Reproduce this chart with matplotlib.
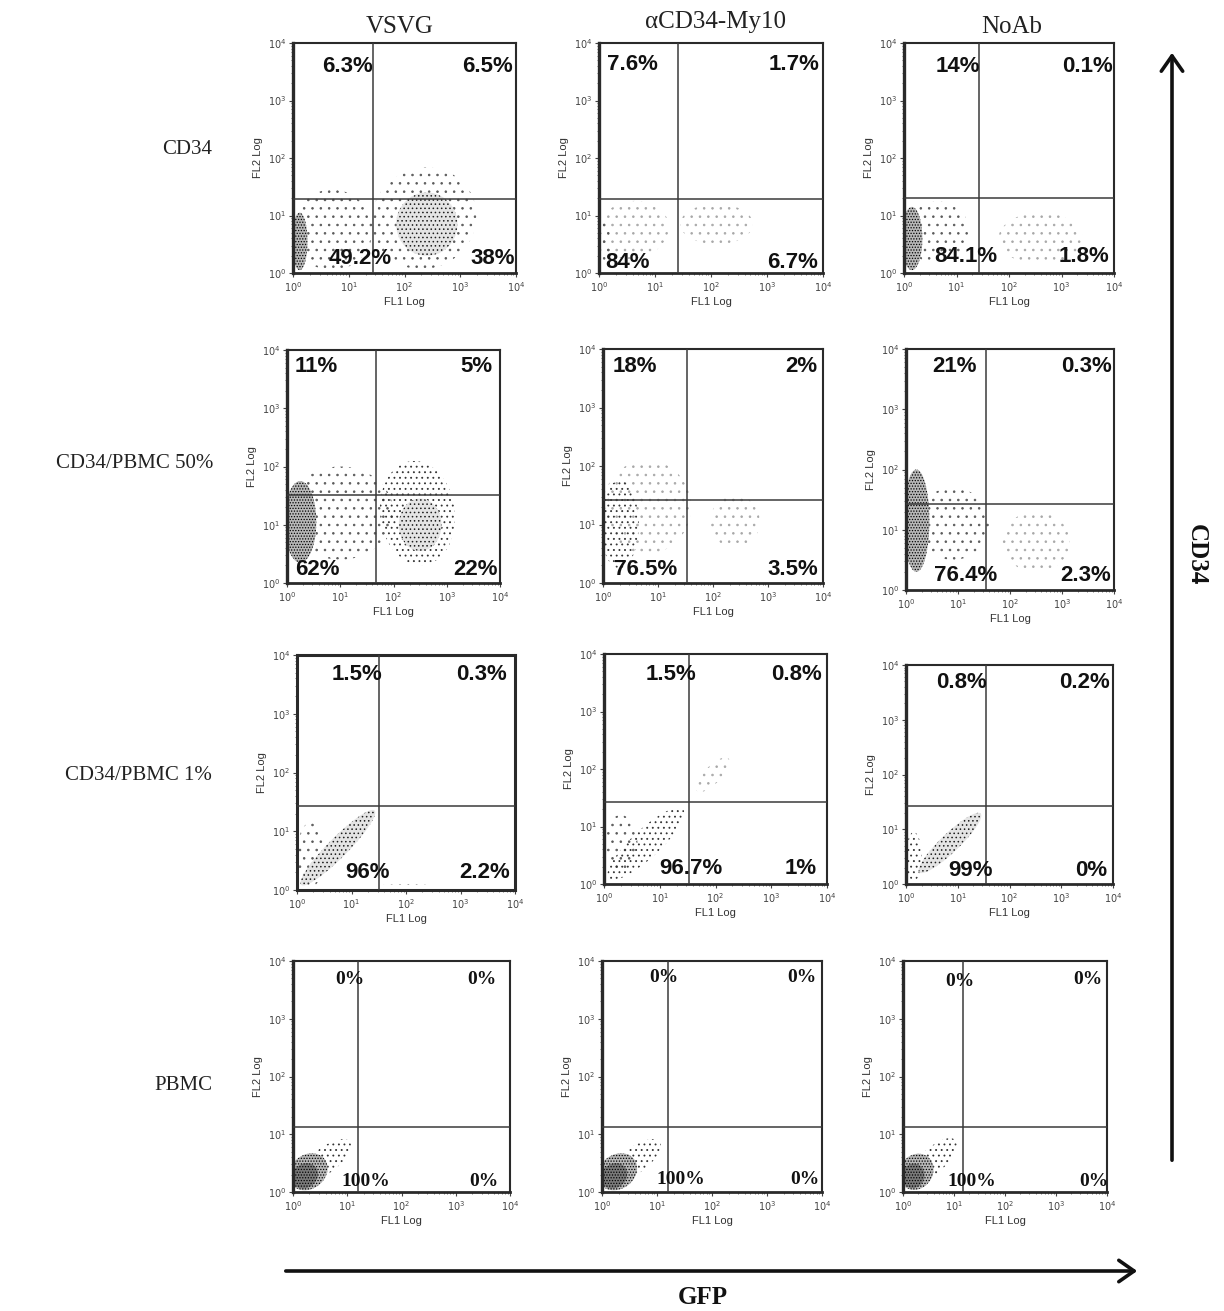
import numpy as np
import matplotlib
matplotlib.use("Agg")
import matplotlib.pyplot as plt
from matplotlib.patches import FancyArrowPatch

plt.rcParams['hatch.linewidth'] = 0.6

W, H = 1224, 1311

# ---------------- data ----------------
col_titles = ["VSVG", "\u03b1CD34-My10", "NoAb"]
row_titles = ["CD34", "CD34/PBMC 50%", "CD34/PBMC 1%", "PBMC"]

# quadrant percentages: [upper-left, upper-right, lower-left, lower-right]
pct_r1 = [["6.3%", "6.5%", "49.2%", "38%"],
          ["7.6%", "1.7%", "84%", "6.7%"],
          ["14%", "0.1%", "84.1%", "1.8%"]]
pct_r2 = [["11%", "5%", "62%", "22%"],
          ["18%", "2%", "76.5%", "3.5%"],
          ["21%", "0.3%", "76.4%", "2.3%"]]
pct_r3 = [["1.5%", "0.3%", "96%", "2.2%"],
          ["1.5%", "0.8%", "96.7%", "1%"],
          ["0.8%", "0.2%", "99%", "0%"]]
pct_r4 = [["0%", "0%", "100%", "0%"],
          ["0%", "0%", "100%", "0%"],
          ["0%", "0%", "100%", "0%"]]
percentages = [pct_r1, pct_r2, pct_r3, pct_r4]

# quadrant gates (log10 of FL1, log10 of FL2)
gate_fl1 = [[1.43, 1.41, 1.43],
            [1.67, 1.53, 1.54],
            [1.50, 1.52, 1.55],
            [1.20, 1.20, 1.18]]
gate_fl2 = [[1.29, 1.29, 1.30],
            [1.51, 1.42, 1.43],
            [1.43, 1.43, 1.42],
            [1.13, 1.13, 1.13]]

# event clouds:
# (centre log10 FL1, centre log10 FL2, width, height [decades], angle deg, density level)
clouds_r1 = [
    [(0.70, 0.75, 1.45, 1.40, 0, 1), (0.12, 0.55, 0.28, 1.00, 0, 4),
     (2.35, 0.95, 1.90, 1.75, 20, 1), (2.40, 0.85, 1.10, 1.10, 20, 3)],
    [(0.60, 0.75, 1.30, 1.00, 10, 0), (2.10, 0.85, 1.30, 0.70, 0, 0),
     (0.10, 0.50, 0.20, 0.80, 0, 1)],
    [(0.65, 0.70, 1.20, 1.10, 0, 1), (0.15, 0.60, 0.40, 1.10, 0, 4),
     (2.60, 0.60, 1.60, 0.90, 0, 0)],
]
clouds_r2 = [
    [(1.00, 1.20, 2.00, 1.60, 0, 1), (0.25, 1.05, 0.60, 1.40, 0, 4),
     (2.45, 1.20, 1.40, 1.80, 10, 2), (2.50, 1.00, 0.80, 0.90, 0, 3)],
    [(0.80, 1.30, 1.60, 1.60, 0, 0), (0.30, 1.00, 0.70, 1.50, 0, 2),
     (2.40, 1.05, 0.90, 0.90, -20, 0)],
    [(0.90, 1.10, 1.40, 1.20, 0, 1), (0.20, 1.15, 0.50, 1.70, 0, 4),
     (2.50, 0.80, 1.30, 1.00, 0, 0)],
]
clouds_r3 = [
    [(0.25, 0.60, 0.50, 1.10, 0, 1), (0.75, 0.72, 1.85, 0.35, 43, 3),
     (2.00, 0.05, 1.20, 0.10, 0, 1)],
    [(0.30, 0.70, 0.60, 1.00, 0, 1), (0.75, 0.70, 1.80, 0.50, 42, 2),
     (1.95, 1.90, 0.80, 0.30, 45, 0)],
    [(0.15, 0.50, 0.30, 0.90, 0, 2), (0.85, 0.75, 1.60, 0.35, 42, 3)],
]
clouds_r4 = [
    [(0.60, 0.55, 1.10, 0.45, 35, 2), (0.28, 0.35, 0.75, 0.60, 30, 4),
     (0.22, 0.28, 0.50, 0.42, 30, 5)],
    [(0.60, 0.55, 1.10, 0.45, 35, 2), (0.28, 0.35, 0.75, 0.60, 30, 4),
     (0.22, 0.28, 0.50, 0.42, 30, 5)],
    [(0.60, 0.55, 1.10, 0.45, 38, 2), (0.26, 0.35, 0.70, 0.60, 30, 4),
     (0.20, 0.28, 0.45, 0.42, 30, 5)],
]
clouds = [clouds_r1, clouds_r2, clouds_r3, clouds_r4]

decade_ticks = [1, 10, 100, 1000, 10000]
decade_labels = ["$10^{0}$", "$10^{1}$", "$10^{2}$", "$10^{3}$", "$10^{4}$"]

# ---------------- layout (pixels) ----------------
axes_px = [  # left, top, right, bottom
    [(293, 43, 516, 273), (599, 43, 823, 273), (904, 43, 1114, 273)],
    [(287, 350, 500, 583), (603, 349, 823, 583), (906, 349, 1114, 590)],
    [(297, 655, 515, 890), (604, 654, 827, 884), (906, 665, 1113, 884)],
    [(293, 961, 510, 1192), (602, 961, 822, 1192), (903, 961, 1107, 1192)],
]
# percentage label anchors: right edge x, centre y (UL, UR, LL, LR)
label_px = [
    [[(373, 66), (513, 66), (392, 259), (515, 259)],
     [(658, 64), (820, 64), (650, 262), (818, 262)],
     [(980, 66), (1113, 66), (997, 257), (1109, 257)]],
    [[(338, 366), (492, 366), (340, 569), (498, 569)],
     [(657, 367), (817, 367), (677, 569), (818, 569)],
     [(977, 367), (1112, 367), (997, 576), (1111, 576)]],
    [[(382, 675), (507, 675), (390, 873), (510, 873)],
     [(696, 674), (822, 674), (723, 869), (817, 869)],
     [(987, 683), (1110, 683), (993, 871), (1107, 871)]],
    [[(365, 980), (497, 980), (390, 1181), (498, 1181)],
     [(678, 978), (816, 978), (705, 1180), (820, 1180)],
     [(975, 982), (1103, 980), (996, 1181), (1108, 1181)]],
]
title_px = [(400, 27), (715, 22), (1012, 27)]
row_label_px = [(212, 150), (213, 463), (212, 775), (212, 1085)]

# density level -> (hatch, dot colour, underlying tint)
level_style = {0: ("..", "#a8a8a8", "none"),
               1: ("..", "#5a5a5a", "none"),
               2: ("...", "#333333", "none"),
               3: ("....", "#1e1e1e", "#e4e4e4"),
               4: ("......", "#000000", "#b8b8b8"),
               5: ("......", "#000000", "#7a7a7a")}


def fx(x):
    return x / W


def fy(y):
    return 1 - y / H


fig = plt.figure(figsize=(W / 100, H / 100), dpi=100)
fig.patch.set_facecolor("white")

theta = np.linspace(0, 2 * np.pi, 80)

for r in range(4):
    for c in range(3):
        l, t, rr, b = axes_px[r][c]
        ax = fig.add_axes([fx(l), fy(b), (rr - l) / W, (b - t) / H])
        ax.set_xscale("log")
        ax.set_yscale("log")
        ax.set_xlim(1, 10000)
        ax.set_ylim(1, 10000)

        # event clouds
        for (cx, cy, w, h, ang, lev) in clouds[r][c]:
            a = np.deg2rad(ang)
            ex = cx + (w / 2) * np.cos(theta) * np.cos(a) - (h / 2) * np.sin(theta) * np.sin(a)
            ey = cy + (w / 2) * np.cos(theta) * np.sin(a) + (h / 2) * np.sin(theta) * np.cos(a)
            ex = np.clip(ex, 0.0, 4.0)
            ey = np.clip(ey, 0.0, 4.0)
            hatch, col, tint = level_style[lev]
            ax.fill(10 ** ex, 10 ** ey, facecolor=tint, edgecolor=col,
                    linewidth=0, hatch=hatch, zorder=1)

        # quadrant gates
        ax.axvline(10 ** gate_fl1[r][c], color="#3a3a3a", lw=1.1, zorder=3)
        ax.axhline(10 ** gate_fl2[r][c], color="#3a3a3a", lw=1.1, zorder=3)

        ax.set_xticks(decade_ticks)
        ax.set_xticklabels(decade_labels)
        ax.set_yticks(decade_ticks)
        ax.set_yticklabels(decade_labels)
        ax.tick_params(which="major", labelsize=7, colors="#444444", length=3,
                       width=0.8, direction="out", pad=2)
        ax.tick_params(which="minor", length=1.6, width=0.6, colors="#666666",
                       direction="out")
        ax.set_xlabel("FL1 Log", fontsize=8, color="#333333", labelpad=2,
                      family="Liberation Sans")
        ax.set_ylabel("FL2 Log", fontsize=8, color="#333333", labelpad=3,
                      family="Liberation Sans")
        for name, sp in ax.spines.items():
            sp.set_color("#2a2a2a")
            sp.set_linewidth(1.5)
        ax.spines["left"].set_linewidth(2.4)
        ax.spines["bottom"].set_linewidth(2.0)
        if r == 2 and c == 0:
            for sp in ax.spines.values():
                sp.set_linewidth(2.2)

        # percentages
        for k in range(4):
            xx, yy = label_px[r][c][k]
            if r == 3:
                fig.text(fx(xx), fy(yy), percentages[r][c][k], ha="right", va="center",
                         fontsize=14, fontweight="bold", family="Liberation Serif",
                         color="#111111")
            else:
                fig.text(fx(xx), fy(yy), percentages[r][c][k], ha="right", va="center",
                         fontsize=16, fontweight="bold", family="Liberation Sans",
                         color="#111111")

for c in range(3):
    fig.text(fx(title_px[c][0]), fy(title_px[c][1]), col_titles[c], ha="center",
             va="center", fontsize=18, family="Liberation Serif", color="#222222")

for r in range(4):
    fig.text(fx(row_label_px[r][0]), fy(row_label_px[r][1]), row_titles[r], ha="right",
             va="center", fontsize=15, family="Liberation Serif", color="#222222")

# axis arrows
arr_v = FancyArrowPatch((fx(1172), fy(1163)), (fx(1172), fy(50)), transform=fig.transFigure,
                        arrowstyle="->,head_length=5,head_width=3.5", lw=2.6, color="#111111",
                        mutation_scale=2.2)
fig.patches.append(arr_v)
arr_h = FancyArrowPatch((fx(283), fy(1271)), (fx(1140), fy(1271)), transform=fig.transFigure,
                        arrowstyle="->,head_length=5,head_width=3.5", lw=2.6, color="#111111",
                        mutation_scale=2.2)
fig.patches.append(arr_h)

fig.text(fx(1196), fy(555), "CD34", rotation=-90, ha="center", va="center", fontsize=18,
         fontweight="bold", family="Liberation Serif", color="#111111")
fig.text(fx(703), fy(1298), "GFP", ha="center", va="center", fontsize=18,
         fontweight="bold", family="Liberation Serif", color="#111111")

fig.savefig("out.png", dpi=100, facecolor="white")
